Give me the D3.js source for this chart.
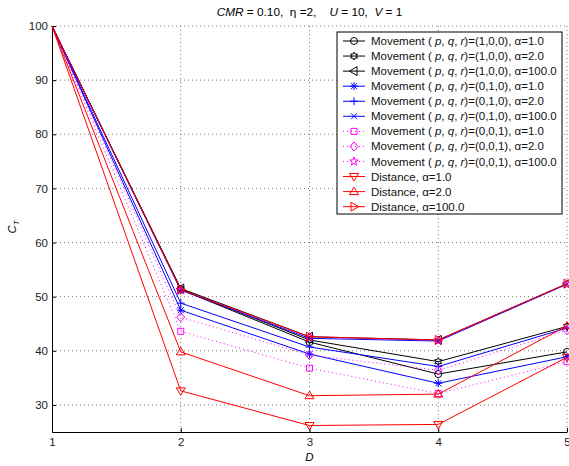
<!DOCTYPE html>
<html>
<head>
<meta charset="utf-8">
<script src="https://cdn.jsdelivr.net/npm/d3@7"></script>
<style>
  body { margin: 0; background: #fff; }
  svg { font-family: "Liberation Sans", Arial, sans-serif; }
</style>
</head>
<body>
<svg id="chart" width="569" height="466"></svg>
<script>
// data
var D_VALUES = [1, 2, 3, 4, 5];
var Y_TICKS = [30, 40, 50, 60, 70, 80, 90, 100];

var mov100_a1   = [100, 51.3, 41.6, 35.7, 39.8];
var mov100_a2   = [100, 51.4, 42.0, 38.0, 44.5];
var mov100_a100 = [100, 51.5, 42.6, 42.0, 52.4];
var mov010_a1   = [100, 47.5, 39.4, 34.0, 38.9];
var mov010_a2   = [100, 48.8, 40.7, 37.1, 44.2];
var mov010_a100 = [100, 51.2, 42.3, 41.8, 52.3];
var mov001_a1   = [100, 43.6, 36.8, 32.1, 38.0];
var mov001_a2   = [100, 46.2, 39.2, 36.4, 43.8];
var mov001_a100 = [100, 51.2, 42.5, 41.9, 52.3];
var dist_a1     = [100, 32.6, 26.2, 26.4, 38.8];
var dist_a2     = [100, 39.8, 31.7, 32.0, 44.6];
var dist_a100   = [100, 51.3, 42.6, 42.0, 52.4];

var series = [
  {pqr: "(1,0,0)", alpha: "1.0",   values: mov100_a1,   color: "#000", marker: "o"},
  {pqr: "(1,0,0)", alpha: "2.0",   values: mov100_a2,   color: "#000", marker: "h"},
  {pqr: "(1,0,0)", alpha: "100.0", values: mov100_a100, color: "#000", marker: "<"},
  {pqr: "(0,1,0)", alpha: "1.0",   values: mov010_a1,   color: "#0000ff", marker: "*"},
  {pqr: "(0,1,0)", alpha: "2.0",   values: mov010_a2,   color: "#0000ff", marker: "+"},
  {pqr: "(0,1,0)", alpha: "100.0", values: mov010_a100, color: "#0000ff", marker: "x"},
  {pqr: "(0,0,1)", alpha: "1.0",   values: mov001_a1,   color: "#ff00ff", marker: "s", dotted: true},
  {pqr: "(0,0,1)", alpha: "2.0",   values: mov001_a2,   color: "#ff00ff", marker: "d", dotted: true},
  {pqr: "(0,0,1)", alpha: "100.0", values: mov001_a100, color: "#ff00ff", marker: "p", dotted: true},
  {pqr: null, alpha: "1.0",   values: dist_a1,   color: "#ff0000", marker: "v"},
  {pqr: null, alpha: "2.0",   values: dist_a2,   color: "#ff0000", marker: "^"},
  {pqr: null, alpha: "100.0", values: dist_a100, color: "#ff0000", marker: ">"}
];

var margin = {top: 26, right: 2, bottom: 34, left: 52};
var width = 569 - margin.left - margin.right;
var height = 466 - margin.top - margin.bottom;

var svg = d3.select("#chart")
  .append("g")
    .attr("transform", "translate(" + margin.left + "," + margin.top + ")");

var x = d3.scaleLinear().domain([1, 5]).range([0, width]);
var y = d3.scaleLinear().domain([25, 100]).range([height, 0]);

function star(n, ro, ri, rot) {
  var pts = [];
  for (var i = 0; i < 2 * n; i++) {
    var a = rot + i * Math.PI / n;
    var r = i % 2 ? ri : ro;
    pts.push([r * Math.sin(a), -r * Math.cos(a)]);
  }
  return "M" + pts.map(function(p) { return p[0].toFixed(2) + "," + p[1].toFixed(2); }).join("L") + "Z";
}

function markerPath(m) {
  switch (m) {
    case "o": return "M3.5,0A3.5,3.5 0 1,1 -3.5,0A3.5,3.5 0 1,1 3.5,0Z";
    case "s": return "M-3,-3H3V3H-3Z";
    case "d": return "M0,-4.5L4,0L0,4.5L-4,0Z";
    case "^": return "M0,-4.5L4.5,3L-4.5,3Z";
    case "v": return "M0,4.5L4.5,-3L-4.5,-3Z";
    case "<": return "M-4.5,0L3,-4.5L3,4.5Z";
    case ">": return "M4.5,0L-3,-4.5L-3,4.5Z";
    case "+": return "M-4,0H4M0,-4V4";
    case "x": return "M-3,-3L3,3M-3,3L3,-3";
    case "*": return "M-4,0H4M0,-4V4M-3,-3L3,3M-3,3L3,-3";
    case "p": return star(5, 4.5, 1.9, 0);
    case "h": return star(6, 4, 2.2, 0);
  }
}

// grid
svg.append("g")
  .attr("class", "grid")
  .selectAll("line.gy")
  .data(Y_TICKS)
  .enter().append("line")
    .attr("x1", 0).attr("x2", width)
    .attr("y1", function(d) { return y(d); })
    .attr("y2", function(d) { return y(d); })
    .attr("stroke", "#777")
    .attr("stroke-dasharray", "1,3");

svg.select(".grid").selectAll("line.gx")
  .data(D_VALUES.slice(1))
  .enter().append("line")
    .attr("x1", function(d) { return x(d); })
    .attr("x2", function(d) { return x(d); })
    .attr("y1", 0).attr("y2", height)
    .attr("stroke", "#777")
    .attr("stroke-dasharray", "1,3");

// axes
var xAxis = svg.append("g")
  .attr("transform", "translate(0," + height + ")")
  .call(d3.axisBottom(x).tickValues(D_VALUES).tickFormat(d3.format("d"))
        .tickSizeInner(-4).tickSizeOuter(0).tickPadding(6));
var yAxis = svg.append("g")
  .call(d3.axisLeft(y).tickValues(Y_TICKS)
        .tickSizeInner(-4).tickSizeOuter(0).tickPadding(4));

[xAxis, yAxis].forEach(function(a) {
  a.attr("font-family", null).attr("font-size", 11.5);
  a.select(".domain").attr("stroke", "#000");
  a.selectAll("text").attr("fill", "#222");
});

// lines + markers (no markers at D=1, as in the figure)
var line = d3.line()
  .x(function(d, i) { return x(D_VALUES[i]); })
  .y(function(d) { return y(d); });

var sg = svg.append("g")
  .selectAll("g")
  .data(series)
  .enter().append("g");

sg.append("path")
  .attr("d", function(d) { return line(d.values); })
  .attr("fill", "none")
  .attr("stroke", function(d) { return d.color; })
  .attr("stroke-width", 1)
  .attr("stroke-dasharray", function(d) { return d.dotted ? "1,3" : null; });

sg.selectAll(".mk")
  .data(function(d) {
    return d.values.map(function(v, i) { return {v: v, i: i, s: d}; })
      .filter(function(p) { return p.i > 0; });
  })
  .enter().append("path")
    .attr("class", "mk")
    .attr("transform", function(d) { return "translate(" + x(D_VALUES[d.i]) + "," + y(d.v) + ")"; })
    .attr("d", function(d) { return markerPath(d.s.marker); })
    .attr("fill", "none")
    .attr("stroke", function(d) { return d.s.color; });

// axis labels
var cT = svg.append("text")
  .attr("transform", "translate(-36," + (height / 2 - 2) + ") rotate(-90)")
  .attr("text-anchor", "middle")
  .attr("font-size", 11.5);
cT.append("tspan").attr("font-style", "italic").text("C");
cT.append("tspan").attr("font-style", "italic").attr("font-size", 8).attr("dy", 3).text("T");

svg.append("text")
  .attr("x", x(3))
  .attr("y", height + 29)
  .attr("text-anchor", "middle")
  .attr("font-size", 11.5)
  .attr("font-style", "italic")
  .text("D");

// title
var title = svg.append("text")
  .attr("x", x(3))
  .attr("y", -10)
  .attr("text-anchor", "middle")
  .attr("font-size", 11.8)
  .attr("xml:space", "preserve");
[["CMR", true], [" = 0.10,  \u03b7 =2,    ", false], ["U", true], [" = 10,  ", false], ["V", true], [" = 1", false]]
  .forEach(function(p) {
    title.append("tspan").attr("font-style", p[1] ? "italic" : null).text(p[0]);
  });

// legend
var lx = 337 - margin.left, ly = 32 - margin.top, lw = 225, lh = 182, rowH = 15.06;
var legend = svg.append("g").attr("transform", "translate(" + lx + "," + ly + ")");
legend.append("rect")
  .attr("width", lw).attr("height", lh)
  .attr("fill", "#fff").attr("stroke", "#000");

var rows = legend.selectAll("g.row")
  .data(series)
  .enter().append("g")
    .attr("class", "row")
    .attr("transform", function(d, i) { return "translate(0," + (9 + i * rowH) + ")"; });

rows.append("line")
  .attr("x1", 6).attr("x2", 28)
  .attr("stroke", function(d) { return d.color; })
  .attr("stroke-dasharray", function(d) { return d.dotted ? "1,3" : null; });
rows.append("path")
  .attr("transform", "translate(17,0)")
  .attr("d", function(d) { return markerPath(d.marker); })
  .attr("fill", "none")
  .attr("stroke", function(d) { return d.color; });

var lt = rows.append("text")
  .attr("x", 34)
  .attr("dy", "0.35em")
  .attr("font-size", 11.5)
  .attr("fill", "#111")
  .attr("xml:space", "preserve");
lt.each(function(d) {
  var t = d3.select(this);
  if (d.pqr) {
    t.append("tspan").text("Movement ( ");
    t.append("tspan").attr("font-style", "italic").text("p");
    t.append("tspan").text(", ");
    t.append("tspan").attr("font-style", "italic").text("q");
    t.append("tspan").text(", ");
    t.append("tspan").attr("font-style", "italic").text("r");
    t.append("tspan").text(")=" + d.pqr + ", \u03b1=" + d.alpha);
  } else {
    t.append("tspan").text("Distance, \u03b1=" + d.alpha);
  }
});
</script>
</body>
</html>
